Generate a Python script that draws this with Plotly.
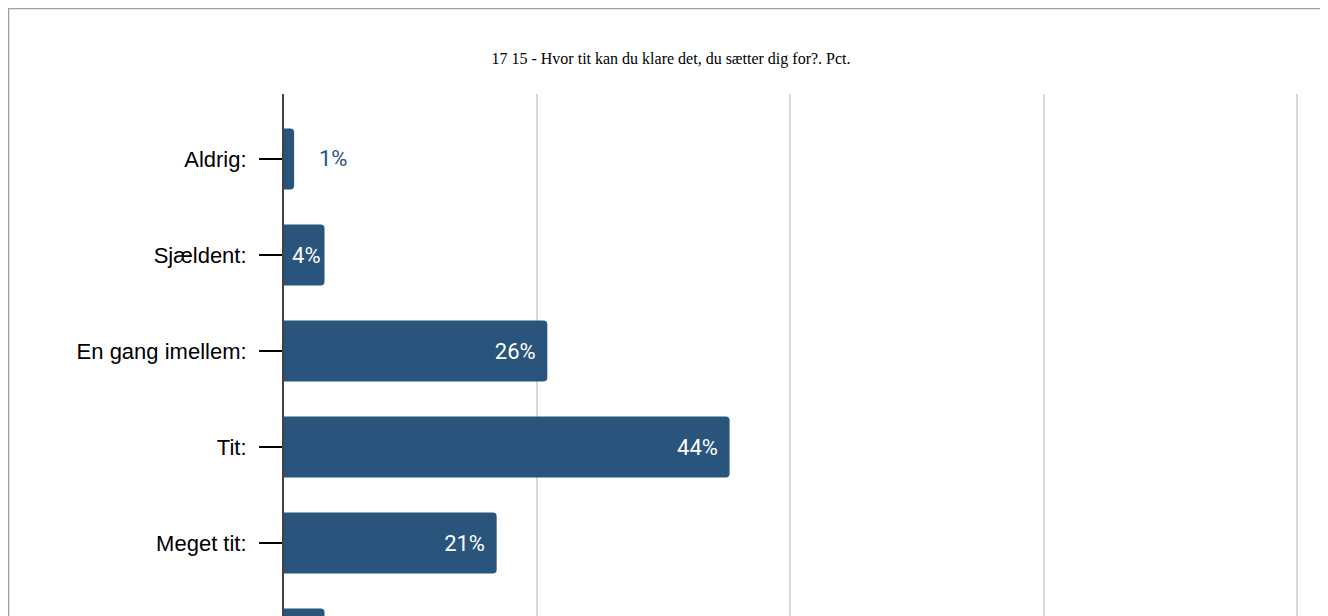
import plotly.graph_objects as go

categories = ["Aldrig:", "Sjældent:", "En gang imellem:", "Tit:", "Meget tit:", "Ved ikke:"]
values = [1, 4, 26, 44, 21, 4]
x_ticks = [0, 25, 50, 75, 100]
title_text = "17 15 - Hvor tit kan du klare det, du sætter dig for?. Pct."

BAR = "#29547b"
W, H = 1326, 746
ML, MR, MT, MB = 276, 17, 86, 50
PW = W - ML - MR
PH = H - MT - MB
X_MAX = 102

NB = "\u00a0"
labels = []
for v in values:
    if v < 3:
        labels.append(NB * 4 + f"{v}%")
    elif v < 10:
        labels.append(f"{v}%")
    else:
        labels.append(f"{v}%" + NB + "\u200a")
text_pos = ["outside" if v < 3 else "inside" for v in values]
text_col = [BAR if v < 3 else "white" for v in values]

fig = go.Figure(go.Bar(
    x=values, y=categories, orientation="h",
    marker=dict(color=BAR, line=dict(width=0)),
    text=labels,
    textposition=text_pos,
    insidetextanchor="end",
    constraintext="none",
    textfont=dict(family="Roboto", size=22, color=text_col),
    cliponaxis=False,
))

fig.update_layout(
    width=W, height=H,
    margin=dict(l=ML, r=MR, t=MT, b=MB, pad=0),
    paper_bgcolor="white", plot_bgcolor="white",
    bargap=0.365, barcornerradius=4,
    showlegend=False,
    title=dict(text=title_text, x=0.5, xref="container", xanchor="center",
               y=1 - 50 / H, yref="container", yanchor="middle",
               font=dict(family="Liberation Serif", size=16, color="black")),
    xaxis=dict(range=[0, X_MAX], tickvals=x_ticks, showticklabels=False,
               showgrid=True, gridcolor="#d9d9d9", gridwidth=2,
               zeroline=False, showline=False),
    yaxis=dict(type="category", categoryorder="array", categoryarray=categories,
               range=[len(categories) - 1 + 0.677, -0.677],
               showline=True, linecolor="#444", linewidth=2,
               ticks="outside", ticklen=23, tickwidth=2, tickcolor="black",
               ticklabelstandoff=8,
               tickfont=dict(family="Liberation Sans", size=22, color="black"),
               showgrid=False),
    shapes=[dict(type="rect", xref="paper", yref="paper",
                 x0=-(ML - 0.5) / PW, x1=(W - ML - 0.5) / PW,
                 y0=-(MB - 0.5) / PH, y1=1 + (MT - 0.5) / PH,
                 line=dict(color="#a0a0a0", width=1.5), fillcolor="rgba(0,0,0,0)",
                 layer="above")],
)

fig.write_html("out.html")
